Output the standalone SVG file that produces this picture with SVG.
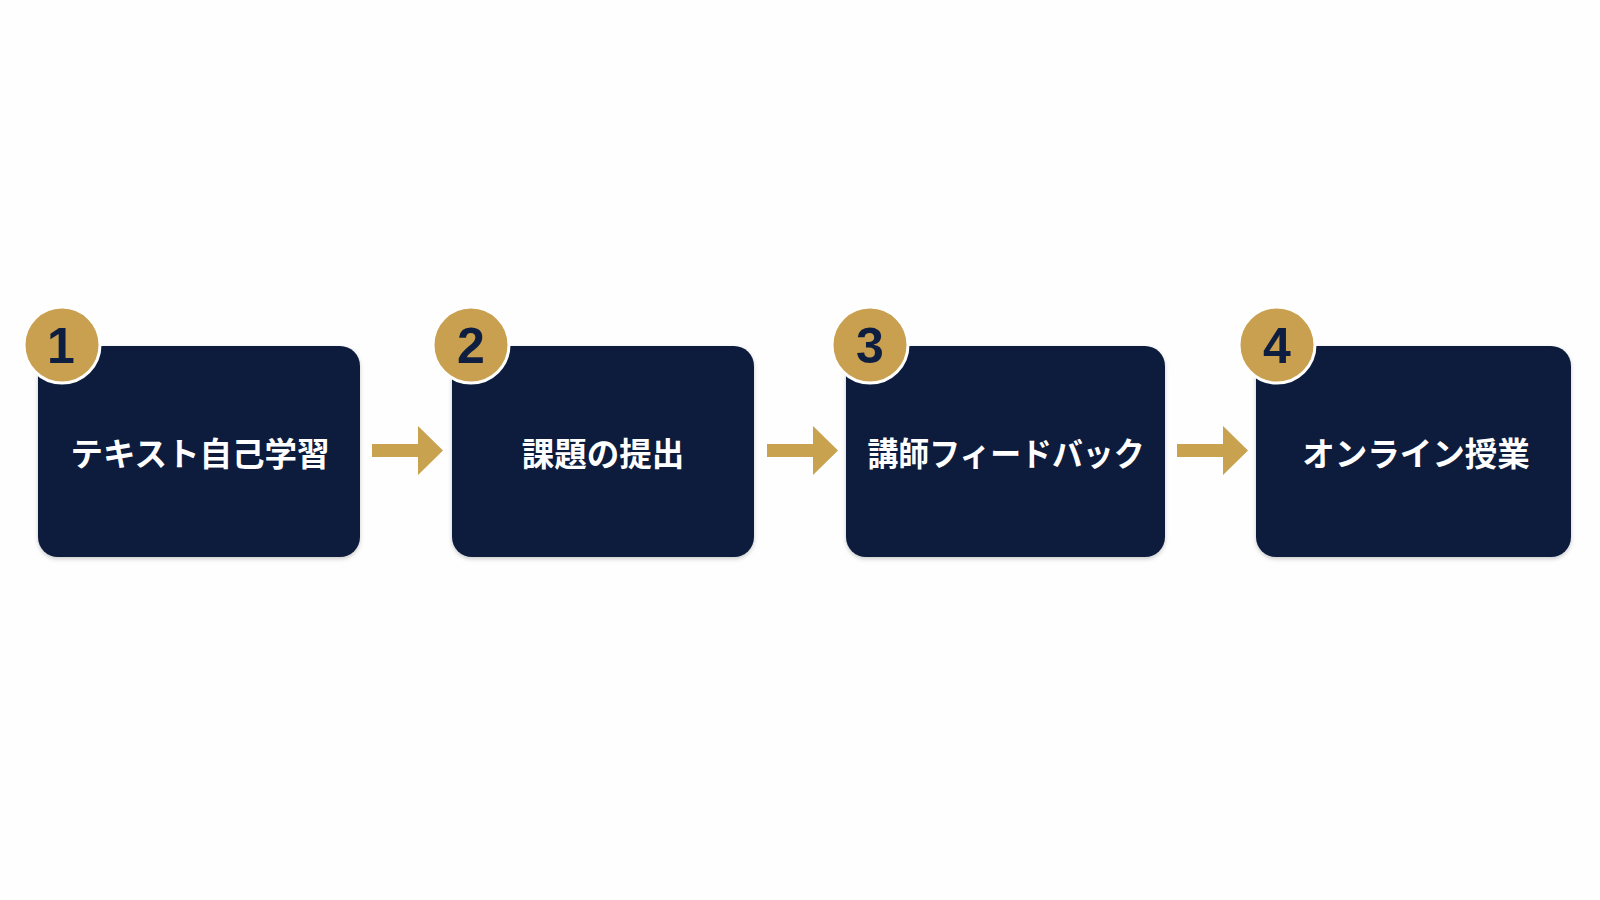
<svg xmlns="http://www.w3.org/2000/svg" width="1600" height="900" viewBox="0 0 1600 900">
<defs>
<style>
.box{fill:#0A1B3D;}
.badge{fill:#C9A04F;stroke:#FFFFFF;stroke-width:3;}
.num{font-family:"Liberation Sans","DejaVu Sans",sans-serif;font-weight:bold;font-size:50px;fill:#0E1E40;text-anchor:middle;}
.lbl{font-family:"Noto Sans CJK JP","Noto Sans",sans-serif;font-weight:bold;font-size:32.5px;fill:#FFFFFF;text-anchor:middle;}
.arrow{fill:#C9A24F;}
</style>
<filter id="sh" x="-10%" y="-10%" width="120%" height="130%">
<feDropShadow dx="0" dy="2" stdDeviation="2" flood-color="#000" flood-opacity="0.2"/>
</filter>
</defs>
<rect width="1600" height="900" fill="#FEFEFE"/>
<g id="connectors">
<polygon class="arrow" points="372,444 418,444 418,426 443,450.5 418,475 418,457 372,457"/>
<polygon class="arrow" points="767,444 813,444 813,426 838,450.5 813,475 813,457 767,457"/>
<polygon class="arrow" points="1177,444 1223,444 1223,426 1248,450.5 1223,475 1223,457 1177,457"/>
</g>
<g id="node1">
<rect class="box" x="38" y="346" width="322" height="211" rx="20" filter="url(#sh)"/>
<circle class="badge" cx="62" cy="345" r="38"/>
<text class="num" x="61" y="363">1</text>
<text class="lbl" x="200" y="466">テキスト自己学習</text>
</g>
<g id="node2">
<rect class="box" x="452" y="346" width="302" height="211" rx="20" filter="url(#sh)"/>
<circle class="badge" cx="471" cy="345" r="38"/>
<text class="num" x="471" y="363">2</text>
<text class="lbl" x="603" y="466">課題の提出</text>
</g>
<g id="node3">
<rect class="box" x="846" y="346" width="319" height="211" rx="20" filter="url(#sh)"/>
<circle class="badge" cx="870" cy="345" r="38"/>
<text class="num" x="870" y="363">3</text>
<text class="lbl" x="1006" y="466" textLength="277" lengthAdjust="spacingAndGlyphs">講師フィードバック</text>
</g>
<g id="node4">
<rect class="box" x="1256" y="346" width="315" height="211" rx="20" filter="url(#sh)"/>
<circle class="badge" cx="1277" cy="345" r="38"/>
<text class="num" x="1277" y="363">4</text>
<text class="lbl" x="1416" y="466">オンライン授業</text>
</g>
</svg>
